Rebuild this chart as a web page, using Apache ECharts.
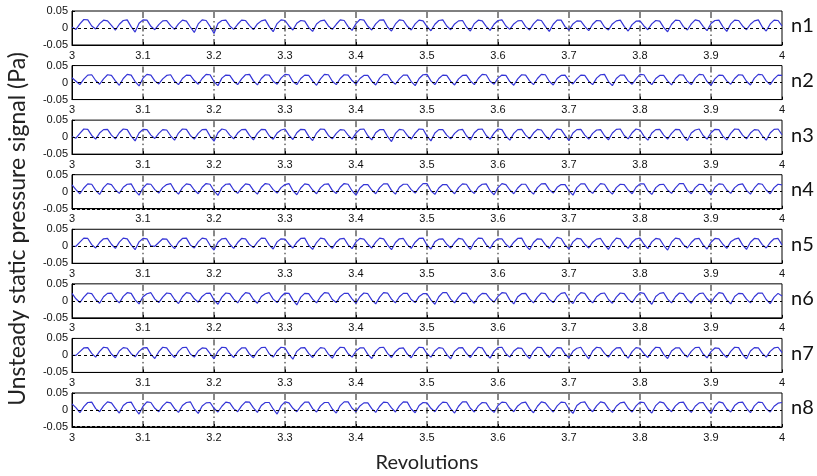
<!DOCTYPE html>
<html>
<head>
<meta charset="utf-8">
<script src="https://cdn.jsdelivr.net/npm/echarts@6/dist/echarts.min.js"></script>
<style>
  html, body { margin: 0; padding: 0; background: #fff; }
  #chart { width: 817px; height: 476px; }
</style>
</head>
<body>
<div id="chart"></div>
<script>
// One revolution of the unsteady static pressure signal at eight probes.
const revStart = 3;
const revEnd = 4;
const samplesPerRev = 180;
const yMin = -0.05;
const yMax = 0.05;

const xTickLabels = ['3', '3.1', '3.2', '3.3', '3.4', '3.5', '3.6', '3.7', '3.8', '3.9', '4'];
const yTickLabels = ['-0.05', '0', '0.05'];
const probes = ['n1', 'n2', 'n3', 'n4', 'n5', 'n6', 'n7', 'n8'];
// probes whose plots also carry a dashed line at the lower limit
const lowerLineProbes = ['n4', 'n8'];

// Pressure signal per probe (Pa), 181 samples from rev 3 to rev 4
const n1 = [.002,-.004,.012,.025,.024, .006,-.003,.013,.023,.021, .008,-.006,.011,.022,.024, .004,-.012,.014,.024,.023,
  .005,-.005,.010,.021,.022, .007,-.004,.012,.023,.020, .003,-.013,.012,.024,.022, .005,-.016,.013,.022,.023,
  .006,-.004,.011,.023,.022, .007,-.005,.012,.021,.024, .004,-.011,.013,.024,.022, .006,-.006,.014,.022,.020,
  .002,-.010,.012,.021,.023, .006,-.004,.011,.024,.022, .004,-.007,.013,.025,.023, .005,-.006,.012,.023,.024,
  .003,-.009,.012,.024,.022, .005,-.006,.012,.023,.021, .004,-.008,.011,.022,.024, .006,-.005,.012,.021,.022,
  .003,-.009,.013,.023,.021, .005,-.007,.011,.022,.024, .006,-.004,.012,.021,.022, .004,-.006,.012,.024,.022,
  .005,-.010,.011,.023,.023, .004,-.006,.012,.021,.020, .005,-.008,.011,.022,.021, .003,-.006,.012,.021,.023,
  .005,-.009,.010,.020,.021, .006,-.005,.012,.022,.020, .002,-.011,.011,.023,.022, .004,-.006,.012,.024,.021,
  .005,-.008,.013,.022,.023, .004,-.010,.012,.023,.022, .006,-.005,.011,.021,.024, .003,-.009,.012,.023,.022, .006];

const n2 = [.014,.004,-.006,.010,.022, .023,.006,-.005,.011,.023, .021,.005,-.008,.012,.024, .022,.003,-.010,.013,.024,
  .022,.005,-.004,.011,.021, .023,.004,-.006,.012,.022, .021,.006,-.005,.012,.024, .023,.003,-.009,.013,.022,
  .021,.004,-.006,.011,.023, .024,.005,-.007,.012,.023, .022,.004,-.005,.013,.024, .023,.003,-.006,.012,.022,
  .021,.005,-.008,.011,.024, .023,.004,-.006,.012,.023, .022,.006,-.004,.012,.021, .021,.004,-.007,.013,.024,
  .023,.005,-.005,.011,.022, .022,.003,-.009,.012,.023, .024,.005,-.006,.012,.022, .021,.004,-.007,.011,.021,
  .022,.005,-.006,.012,.024, .023,.004,-.005,.013,.022, .021,.003,-.008,.011,.023, .022,.005,-.006,.012,.024,
  .023,.004,-.007,.012,.021, .022,.005,-.004,.011,.022, .021,.004,-.006,.013,.023, .024,.003,-.009,.012,.022,
  .022,.005,-.005,.011,.024, .023,.004,-.006,.012,.021, .021,.005,-.007,.012,.023, .022,.004,-.006,.013,.024,
  .023,.003,-.008,.011,.022, .021,.005,-.005,.012,.023, .022,.004,-.007,.013,.024, .023,.005,-.006,.011,.022, .021];

const n3 = [.001,-.003,.011,.024,.023, .005,-.006,.012,.022,.023, .006,-.005,.013,.024,.022, .003,-.011,.012,.023,.022,
  .006,-.004,.011,.022,.021, .004,-.009,.012,.024,.023, .005,-.006,.011,.022,.023, .003,-.012,.013,.024,.021,
  .006,-.005,.012,.022,.023, .005,-.008,.011,.023,.022, .004,-.006,.012,.021,.024, .006,-.007,.013,.023,.022,
  .003,-.010,.012,.024,.023, .005,-.005,.011,.022,.021, .006,-.006,.012,.023,.024, .004,-.008,.013,.022,.022,
  .002,-.013,.011,.023,.021, .005,-.006,.012,.024,.023, .003,-.011,.012,.022,.022, .006,-.005,.011,.021,.023,
  .004,-.008,.013,.023,.024, .005,-.006,.012,.024,.022, .003,-.009,.011,.022,.023, .006,-.005,.012,.023,.021,
  .004,-.007,.013,.024,.022, .005,-.010,.012,.022,.023, .006,-.006,.011,.021,.022, .004,-.008,.012,.023,.024,
  .005,-.005,.013,.024,.021, .003,-.009,.012,.022,.023, .006,-.006,.011,.023,.022, .004,-.010,.012,.021,.024,
  .005,-.006,.013,.023,.022, .003,-.008,.011,.024,.023, .006,-.005,.012,.022,.021, .004,-.009,.012,.023,.024, .007];

const n4 = [.020,.006,-.006,.011,.023, .022,.004,-.008,.012,.024, .021,.005,-.005,.013,.022, .023,.003,-.010,.011,.023,
  .022,.006,-.004,.012,.021, .024,.004,-.007,.012,.023, .021,.005,-.006,.013,.024, .022,.003,-.011,.012,.022,
  .023,.005,-.005,.011,.023, .021,.004,-.007,.013,.024, .022,.006,-.004,.012,.021, .024,.003,-.009,.011,.023,
  .021,.005,-.006,.012,.022, .023,.004,-.005,.013,.024, .022,.003,-.010,.011,.021, .021,.005,-.006,.012,.023,
  .023,.004,-.007,.013,.022, .022,.006,-.004,.012,.024, .024,.003,-.008,.011,.021, .021,.005,-.006,.012,.023,
  .022,.004,-.005,.013,.022, .023,.003,-.009,.012,.024, .021,.005,-.006,.011,.022, .022,.004,-.007,.012,.023,
  .024,.006,-.004,.013,.021, .021,.003,-.010,.012,.023, .023,.005,-.005,.011,.024, .022,.004,-.007,.012,.022,
  .021,.005,-.006,.013,.023, .023,.003,-.008,.012,.021, .022,.005,-.005,.011,.024, .024,.004,-.006,.012,.022,
  .021,.003,-.009,.013,.023, .022,.005,-.005,.012,.021, .023,.004,-.007,.011,.024, .022,.005,-.006,.012,.022, .020];

const n5 = [.000,.000,.012,.024,.023, .005,-.005,.011,.022,.023, .006,-.006,.012,.024,.022, .004,-.010,.013,.023,.022,
  .001,.000,.011,.022,.021, .005,-.007,.012,.023,.024, .004,-.005,.013,.024,.022, .003,-.011,.012,.022,.023,
  .006,-.006,.011,.023,.022, .005,-.004,.012,.024,.023, .004,-.008,.013,.022,.021, .006,-.005,.012,.023,.024,
  .003,-.009,.011,.024,.022, .005,-.006,.012,.022,.023, .004,-.007,.013,.023,.021, .006,-.005,.012,.024,.022,
  .004,-.010,.011,.022,.023, .005,-.006,.012,.023,.024, .003,-.008,.013,.021,.022, .006,-.005,.011,.023,.021,
  .004,-.009,.012,.024,.023, .005,-.006,.013,.022,.022, .006,-.004,.012,.023,.024, .003,-.010,.011,.022,.021,
  .005,-.006,.012,.026,.023, .004,-.008,.013,.023,.022, .006,-.005,.012,.021,.023, .005,-.009,.011,.024,.022,
  .004,-.006,.012,.022,.024, .006,-.007,.013,.023,.021, .003,-.011,.012,.024,.022, .005,-.005,.011,.022,.023,
  .004,-.008,.012,.023,.022, .006,-.006,.013,.021,.024, .004,-.009,.012,.023,.022, .005,-.005,.011,.022,.023, .004];

const n6 = [.022,.006,-.005,.011,.023, .021,.004,-.007,.012,.022, .023,.005,-.006,.013,.024, .022,.003,-.009,.012,.021,
  .024,.005,-.005,.011,.023, .021,.004,-.008,.012,.024, .022,.006,-.004,.013,.022, .023,.003,-.010,.011,.023,
  .021,.005,-.006,.012,.024, .022,.004,-.007,.013,.021, .024,.005,-.005,.012,.023, .022,.003,-.012,.011,.022,
  .021,.005,-.006,.012,.024, .023,.004,-.005,.013,.022, .022,.006,-.007,.012,.023, .021,.003,-.009,.011,.024,
  .023,.005,-.006,.012,.022, .022,.004,-.005,.013,.021, .021,.003,-.010,.012,.024, .024,.005,-.006,.011,.023,
  .022,.004,-.007,.012,.022, .021,.006,-.004,.013,.024, .023,.003,-.009,.012,.021, .022,.005,-.006,.011,.023,
  .021,.004,-.005,.012,.022, .024,.003,-.008,.013,.024, .022,.005,-.006,.012,.021, .023,.004,-.007,.011,.023,
  .021,.005,-.005,.012,.024, .022,.003,-.010,.013,.022, .024,.005,-.006,.012,.023, .021,.004,-.007,.011,.021,
  .023,.006,-.005,.012,.024, .022,.003,-.009,.013,.022, .021,.005,-.006,.012,.023, .023,.004,-.008,.011,.022, .014];

const n7 = [.000,.000,.011,.022,.023, .006,-.005,.012,.024,.022, .004,-.007,.013,.023,.021, .005,-.004,.012,.022,.023,
  .003,-.009,.011,.024,.022, .006,-.006,.012,.023,.024, .004,-.005,.013,.022,.021, .005,-.010,.012,.024,.023,
  .006,-.006,.011,.022,.022, .004,-.007,.012,.023,.024, .005,-.005,.013,.024,.022, .003,-.011,.012,.022,.023,
  .006,-.006,.011,.023,.021, .004,-.008,.012,.024,.023, .005,-.005,.013,.022,.022, .003,-.009,.012,.023,.024,
  .006,-.006,.011,.021,.022, .004,-.007,.012,.024,.023, .005,-.005,.013,.023,.021, .003,-.010,.012,.022,.023,
  .006,-.006,.011,.024,.022, .004,-.008,.012,.023,.024, .005,-.005,.013,.022,.021, .003,-.009,.012,.024,.023,
  .006,-.006,.011,.023,.022, .004,-.007,.012,.021,.024, .005,-.010,.013,.024,.022, .006,-.005,.012,.022,.023,
  .004,-.008,.011,.023,.021, .005,-.006,.012,.024,.023, .003,-.009,.013,.022,.022, .006,-.005,.012,.023,.024,
  .004,-.007,.011,.022,.021, .005,-.006,.012,.024,.023, .003,-.010,.013,.023,.022, .006,-.005,.012,.022,.024, .008];

const n8 = [.018,.007,-.008,.010,.022, .023,.004,-.005,.012,.024, .021,.005,-.009,.013,.022, .023,.003,-.012,.011,.024,
  .022,.005,-.005,.012,.023, .021,.004,-.007,.013,.022, .024,.003,-.010,.012,.021, .022,.005,-.006,.011,.023,
  .021,.004,-.005,.012,.024, .023,.006,-.007,.013,.022, .022,.003,-.012,.012,.024, .021,.005,-.005,.011,.023,
  .023,.004,-.006,.012,.022, .022,.003,-.009,.013,.024, .024,.005,-.005,.012,.021, .021,.004,-.007,.011,.023,
  .022,.006,-.006,.012,.024, .023,.003,-.008,.013,.022, .021,.005,-.005,.012,.023, .022,.004,-.009,.011,.024,
  .024,.005,-.006,.012,.022, .021,.003,-.007,.013,.023, .022,.005,-.005,.012,.021, .023,.004,-.008,.011,.024,
  .021,.006,-.006,.012,.023, .022,.003,-.010,.013,.022, .024,.005,-.005,.012,.024, .021,.004,-.007,.011,.021,
  .023,.005,-.006,.012,.023, .022,.003,-.009,.013,.024, .021,.005,-.005,.012,.022, .023,.004,-.007,.011,.021,
  .022,.005,-.010,.012,.024, .021,.003,-.006,.013,.022, .023,.005,-.008,.012,.023, .022,.004,-.006,.011,.020, .022];

const signals = [n1, n2, n3, n4, n5, n6, n7, n8];

// panel layout
const plotLeft = 72, plotWidth = 710, plotTop = 11, plotHeight = 34, plotStep = 54.57;
const lineBlue = '#3535d6';
const tickFont = 'Liberation Sans, Arial, sans-serif';
const titleFont = 'Lato, "Open Sans", sans-serif';

// interior x ticks carry a dash-dot grid line
const gridTickValues = xTickLabels.map(Number).filter(v => v > revStart && v < revEnd);

const grids = [], xAxes = [], yAxes = [], series = [], graphics = [];

probes.forEach((name, i) => {
  const top = plotTop + i * plotStep;
  grids.push({
    left: plotLeft, width: plotWidth, top: top, height: plotHeight,
    show: true, borderColor: '#000', borderWidth: 1
  });
  xAxes.push({
    gridIndex: i, type: 'value', min: revStart, max: revEnd, interval: 0.1,
    axisLine: { show: true, onZero: false, lineStyle: { color: '#000', width: 1 } },
    axisTick: { show: true, inside: true, length: 3, lineStyle: { color: '#000' } },
    axisLabel: {
      fontFamily: tickFont, fontSize: 11, color: '#111', margin: 5,
      formatter: v => xTickLabels[Math.round((v - revStart) * 10)]
    },
    splitLine: { show: false }
  });
  yAxes.push({
    gridIndex: i, type: 'value', min: yMin, max: yMax, interval: 0.05,
    axisLine: { show: true, onZero: false, lineStyle: { color: '#000', width: 1 } },
    axisTick: { show: true, inside: true, length: 3, lineStyle: { color: '#000' } },
    axisLabel: {
      fontFamily: tickFont, fontSize: 11, color: '#111', margin: 4,
      formatter: v => yTickLabels[Math.round((v - yMin) / 0.05)]
    },
    splitLine: { show: false }
  });

  // vertical dash-dot grid lines, one short series per tick
  gridTickValues.forEach(v => {
    series.push({
      type: 'line', xAxisIndex: i, yAxisIndex: i,
      data: [[v, yMin], [v, yMax]],
      silent: true, showSymbol: false, symbol: 'none', animation: false, z: 2,
      lineStyle: { color: '#111', width: 1, type: [6, 3, 1.5, 3] }
    });
  });

  const refLines = [{ yAxis: 0, lineStyle: { color: '#000', width: 1, type: [3, 3] } }];
  if (lowerLineProbes.includes(name)) {
    refLines.push({ yAxis: yMin, lineStyle: { color: '#000', width: 2, type: [3, 2] } });
  }

  series.push({
    type: 'line', xAxisIndex: i, yAxisIndex: i, name: name,
    data: signals[i].map((v, k) => [revStart + k * (revEnd - revStart) / samplesPerRev, v]),
    showSymbol: false, symbol: 'none', animation: false, z: 3,
    lineStyle: { color: lineBlue, width: 1.2 },
    markLine: {
      silent: true, symbol: 'none', animation: false,
      label: { show: false },
      data: refLines
    }
  });
  graphics.push({
    type: 'text', left: 791, top: top + plotHeight / 2 - 12,
    style: { text: name, font: '20px ' + titleFont, fill: '#111' }
  });
});

graphics.push({
  type: 'text', x: 18, y: 229, rotation: Math.PI / 2,
  style: {
    text: 'Unsteady static pressure signal (Pa)', font: '23px ' + titleFont,
    fill: '#222', align: 'center', verticalAlign: 'middle'
  }
});
graphics.push({
  type: 'text', x: 427, y: 463,
  style: {
    text: 'Revolutions', font: '20px ' + titleFont,
    fill: '#222', align: 'center', verticalAlign: 'middle'
  }
});

const chart = echarts.init(document.getElementById('chart'), null, { renderer: 'canvas' });
chart.setOption({
  backgroundColor: '#fff',
  animation: false,
  grid: grids,
  xAxis: xAxes,
  yAxis: yAxes,
  series: series,
  graphic: graphics
});
</script>
</body>
</html>
